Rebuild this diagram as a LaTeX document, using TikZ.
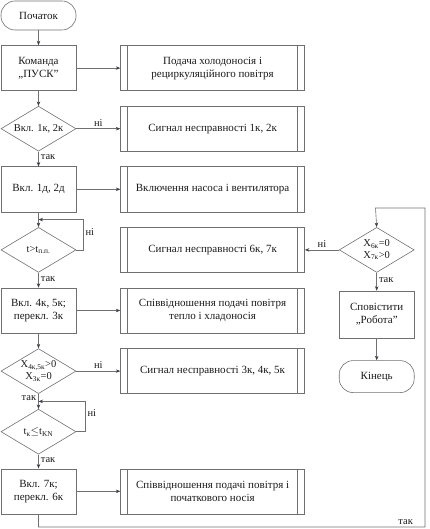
\documentclass[tikz,border=0pt]{standalone}
\usepackage{fontspec}
\setmainfont{Liberation Serif}
\usetikzlibrary{positioning, shapes.geometric, arrows.meta, calc}
\definecolor{cline}{HTML}{707070}
\definecolor{carrow}{HTML}{3A3F4A}
\definecolor{ctext}{HTML}{1A1A1A}

\begin{document}
\begin{tikzpicture}[
  x=1pt, y=-1pt,
  font=\rmfamily\fontsize{11}{13}\selectfont,
  node distance=15pt,
  every node/.append style={text=ctext},
  termcard/.style={
    rectangle, rounded corners=14pt,
    draw=cline, line width=0.6pt,
    minimum width=75pt, minimum height=29pt, inner sep=1pt
  },
  stepcard/.style={
    rectangle, draw=cline, line width=0.6pt,
    minimum width=75pt, minimum height=45pt,
    inner sep=1pt, align=center
  },
  askcard/.style={
    diamond, aspect=1.7, draw=cline, line width=0.6pt,
    minimum width=75pt, minimum height=45pt,
    inner sep=0pt, align=center,
    font=\rmfamily\fontsize{10.5}{11.5}\selectfont
  },
  subcard/.style={
    rectangle, draw=cline, line width=0.6pt,
    minimum width=184pt, minimum height=45pt, align=center,
    path picture={
      \draw[cline, line width=0.6pt]
        ([xshift=7pt]path picture bounding box.north west) --
        ([xshift=7pt]path picture bounding box.south west);
      \draw[cline, line width=0.6pt]
        ([xshift=-7pt]path picture bounding box.north east) --
        ([xshift=-7pt]path picture bounding box.south east);
    }
  },
  flow/.style={
    draw=cline, line width=0.6pt,
    -{Stealth[length=4.5pt, width=3.5pt, color=carrow]}
  },
  lbl/.style={font=\rmfamily\fontsize{10.5}{12}\selectfont, inner sep=2pt}
]
\useasboundingbox (0,0) rectangle (429,529);

% left column
\node[termcard] (start) at (38.5,15.5) {Початок};
\node[stepcard, below=of start] (cmd) {Команда\\„ПУСК”};
\node[askcard, below=of cmd] (d1) {Вкл. 1к, 2к};
\node[stepcard, below=of d1] (on1d) {Вкл. 1д, 2д};
\node[askcard, below=of on1d] (dt) {t>t\textsubscript{п.п.}};
\node[stepcard, below=of dt] (on45) {Вкл. 4к, 5к;\\перекл. 3к};
\node[askcard, below=of on45] (d45) {X\textsubscript{4к,5к}>0\\X\textsubscript{3к}=0};
\node[askcard, below=of d45] (dtk) {t\textsubscript{к}$\leq$t\textsubscript{KN}};
\node[stepcard, below=14pt of dtk] (on7k) {Вкл. 7к;\\перекл. 6к};

% middle column
\node[subcard, right=44pt of cmd] (feed) {Подача холодоносія і\\рециркуляційного повітря};
\node[subcard, right=44pt of d1] (fault1) {Сигнал несправності 1к, 2к};
\node[subcard, right=44pt of on1d] (pump) {Включення насоса і вентилятора};
\node[subcard, right=44pt of dt] (fault67) {Сигнал несправності 6к, 7к};
\node[subcard, right=44pt of on45] (ratio1) {Співвідношення подачі повітря\\тепло і хладоносія};
\node[subcard, right=44pt of d45] (fault345) {Сигнал несправності 3к, 4к, 5к};
\node[subcard, right=44pt of on7k] (ratio2) {Співвідношення подачі повітря і\\початкового носія};

% right column
\node[askcard, right=34pt of fault67] (dx) {X\textsubscript{6к}=0\\X\textsubscript{7к}>0};
\node[stepcard, minimum height=47pt, below=18pt of dx] (notify) {Сповістити\\„Робота”};
\node[termcard, minimum height=32pt, below=22pt of notify] (finish) {Кінець};

\coordinate (j1) at ($(on1d.south)!0.5!(dt.north)$);
\coordinate (j2) at ($(d45.south)!0.5!(dtk.north)$);
\coordinate (rcorner) at (425,527);
\coordinate (rtop) at (375.5,208);

% connectors
\draw[flow] (start) -- (cmd);
\draw[flow] (cmd) -- (feed);
\draw[flow] (cmd) -- (d1);
\draw[flow] (d1) -- node[lbl, above] {ні} (fault1);
\draw[flow] (d1) -- node[lbl, right, pos=0.4] {так} (on1d);
\draw[flow] (on1d) -- (pump);
\draw[flow] (on1d) -- (dt);
\draw[flow] (dt.east) -- ++(7,0) |- node[lbl, right, pos=0.3] {ні} (j1);
\draw[flow] (dt) -- node[lbl, right, pos=0.4] {так} (on45);
\draw[flow] (on45) -- (ratio1);
\draw[flow] (on45) -- (d45);
\draw[flow] (d45) -- node[lbl, above] {ні} (fault345);
\draw[flow] (d45) -- node[lbl, left, pos=0.3] {так} (dtk);
\draw[flow] (dtk.east) -- ++(9,0) |- node[lbl, right, pos=0.3] {ні} (j2);
\draw[flow] (dtk) -- node[lbl, right, pos=0.4] {так} (on7k);
\draw[flow] (on7k) -- (ratio2);
\draw[flow] (on7k.south) |- node[lbl, above, pos=0.975] {так} (rcorner)
  |- (rtop) -- (dx.north);
\draw[flow] (dx) -- node[lbl, above] {ні} (fault67);
\draw[flow] (dx) -- node[lbl, right, pos=0.4] {так} (notify);
\draw[flow] (notify) -- (finish);

\end{tikzpicture}
\end{document}
